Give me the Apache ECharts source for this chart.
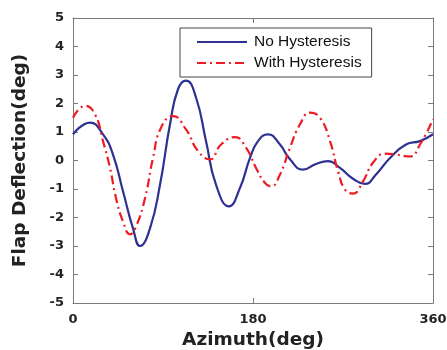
<!DOCTYPE html>
<html>
<head>
<meta charset="utf-8">
<script src="https://cdn.jsdelivr.net/npm/echarts@6/dist/echarts.min.js"></script>
<style>
  html, body { margin: 0; padding: 0; background: #fff; }
  #chart { width: 447px; height: 350px; }
</style>
</head>
<body>
<div id="chart"></div>
<script>
// Flap deflection over one rotor revolution
const azimuthNoHyst = [0, 17, 30, 40, 50, 60, 67, 77, 87, 97, 105, 113, 123, 133, 143, 156, 167, 177, 185, 195,
  207, 217, 230, 243, 255, 267, 280, 292, 303, 317, 333, 347, 360];
const flapNoHyst    = [0.92, 1.33, 0.92, 0.21, -1.08, -2.38, -3.0, -2.38, -0.85, 1.27, 2.5, 2.8, 2.21, 0.68, -0.85, -1.61, -0.96, 0.09, 0.68, 0.92,
  0.56, 0.04, -0.32, -0.12, -0.02, -0.26, -0.64, -0.82, -0.49, 0.09, 0.56, 0.68, 0.92];

const azimuthHyst = [0, 12, 22, 30, 37, 43, 50, 57, 63, 72, 80, 88, 100, 113, 125, 137, 148, 162, 173, 183, 192, 198,
  207, 217, 227, 237, 247, 257, 265, 272, 280, 290, 300, 312, 323, 337, 347, 360];
const flapHyst    = [1.5, 1.92, 1.62, 0.68, -0.26, -1.32, -2.14, -2.59, -2.32, -1.32, 0.09, 1.15, 1.56, 1.09, 0.33, 0.04, 0.56, 0.82, 0.45, -0.26, -0.79, -0.91,
  -0.49, 0.45, 1.27, 1.68, 1.5, 0.68, -0.38, -1.02, -1.16, -0.73, -0.08, 0.24, 0.21, 0.14, 0.56, 1.45];

const seriesNames = ['No Hysteresis', 'With Hysteresis'];
const xTicks = [0, 180, 360];
const yRange = [-5, 5];

const pairs = (xs, ys) => xs.map((x, i) => [x, ys[i]]);

const axisGrey = '#7a7a7a';
const tickFont = { fontFamily: 'DejaVu Sans', fontWeight: 'bold', fontSize: 13, color: '#222' };
const nameFont = { fontFamily: 'DejaVu Sans', fontWeight: 'bold', fontSize: 18.5, color: '#222' };

const frameAxisLine = { show: true, onZero: false, lineStyle: { color: axisGrey } };
const frameTick = { show: true, inside: true, length: 5, lineStyle: { color: axisGrey } };

const chart = echarts.init(document.getElementById('chart'), null, { renderer: 'canvas' });
chart.setOption({
  animation: false,
  backgroundColor: '#fff',
  grid: { left: 73, right: 14, top: 18, bottom: 47, outerBoundsMode: 'none', containLabel: false },
  legend: {
    data: seriesNames,
    orient: 'vertical',
    left: 180,
    top: 28,
    padding: [6, 10, 6, 16],
    itemGap: 5,
    itemWidth: 50,
    itemHeight: 14,
    borderColor: '#444',
    borderWidth: 1,
    backgroundColor: '#fff',
    itemStyle: { opacity: 0 },
    textStyle: { fontFamily: 'Liberation Sans', fontSize: 15.5, color: '#111', padding: [0, 0, 0, 2] }
  },
  xAxis: [{
    type: 'value',
    min: xTicks[0], max: xTicks[xTicks.length - 1], interval: 180,
    name: 'Azimuth(deg)', nameLocation: 'middle', nameGap: 26,
    nameTextStyle: nameFont,
    axisLine: frameAxisLine,
    axisTick: frameTick,
    axisLabel: Object.assign({ margin: 10 }, tickFont),
    splitLine: { show: false }
  }, {
    type: 'value', position: 'top',
    min: xTicks[0], max: xTicks[xTicks.length - 1], interval: 180,
    axisLine: frameAxisLine,
    axisTick: frameTick,
    axisLabel: { show: false },
    splitLine: { show: false }
  }],
  yAxis: [{
    type: 'value',
    min: yRange[0], max: yRange[1], interval: 1,
    name: 'Flap Deflection(deg)', nameLocation: 'middle', nameGap: 43,
    nameTextStyle: nameFont,
    axisLine: frameAxisLine,
    axisTick: frameTick,
    axisLabel: Object.assign({ margin: 9 }, tickFont),
    splitLine: { show: false }
  }, {
    type: 'value', position: 'right',
    min: yRange[0], max: yRange[1], interval: 1,
    axisLine: frameAxisLine,
    axisTick: frameTick,
    axisLabel: { show: false },
    splitLine: { show: false }
  }],
  series: [{
    name: seriesNames[0],
    type: 'line',
    data: pairs(azimuthNoHyst, flapNoHyst),
    smooth: 0.5,
    symbol: 'none',
    lineStyle: { color: '#2e3192', width: 2.2 },
    itemStyle: { color: '#2e3192' }
  }, {
    name: seriesNames[1],
    type: 'line',
    data: pairs(azimuthHyst, flapHyst),
    smooth: 0.5,
    symbol: 'none',
    lineStyle: { color: '#ed1c24', width: 2.2, type: [9, 4, 2, 4] },
    itemStyle: { color: '#ed1c24' }
  }]
});
</script>
</body>
</html>
